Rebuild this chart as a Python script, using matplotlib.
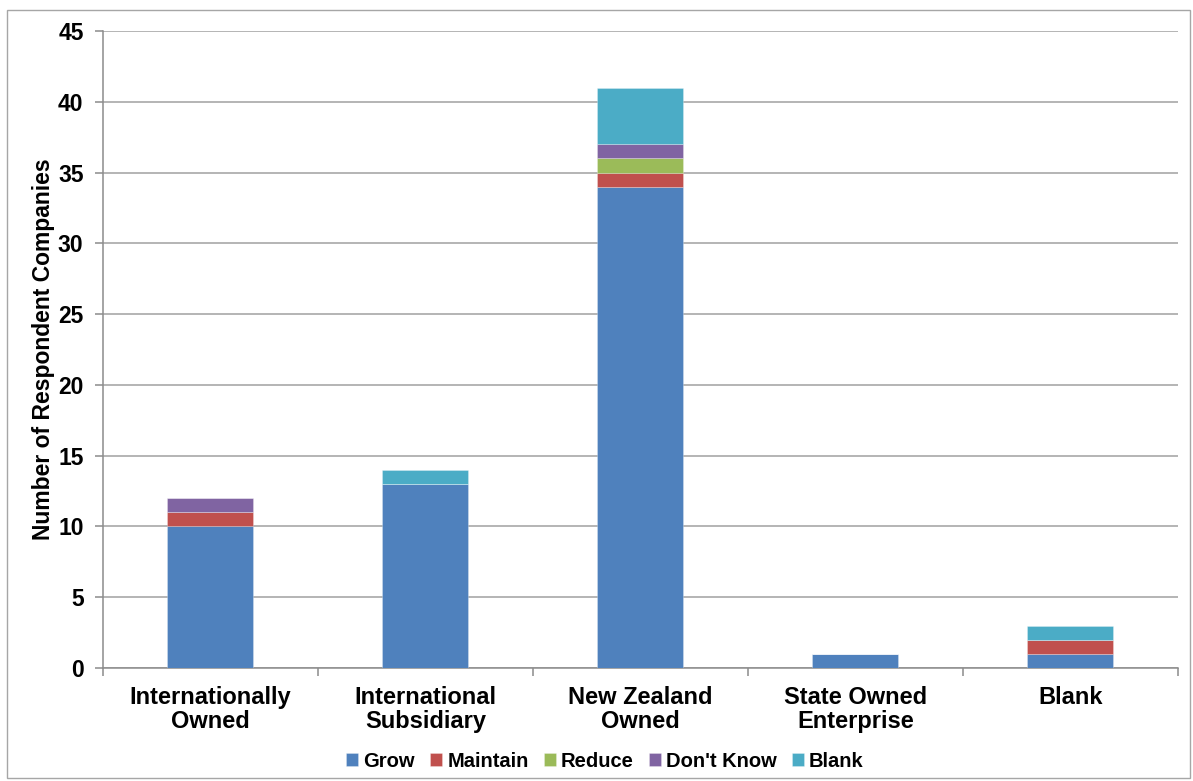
import matplotlib
matplotlib.use("Agg")
import matplotlib.pyplot as plt
from matplotlib.patches import Rectangle
import numpy as np

plt.rcParams['font.family'] = ['Liberation Sans', 'DejaVu Sans']
plt.rcParams['font.weight'] = 'bold'

categories = ["Internationally\nOwned", "International\nSubsidiary", "New Zealand\nOwned",
              "State Owned\nEnterprise", "Blank"]
series_names = ["Grow", "Maintain", "Reduce", "Don't Know", "Blank"]
grow = [10, 13, 34, 1, 1]
maintain = [1, 0, 1, 0, 1]
reduce_ = [0, 0, 1, 0, 0]
dont_know = [1, 0, 1, 0, 0]
blank = [0, 1, 4, 0, 1]
colors = ["#4F81BD", "#C0504D", "#9BBB59", "#8064A2", "#4BACC6"]

fig = plt.figure(figsize=(11.93, 7.81), dpi=100)
ax = fig.add_axes([0.0863, 0.1447, 0.9011, 0.8156])

x = np.arange(len(categories))
bottom = np.zeros(len(categories))
for name, vals, c in zip(series_names, [grow, maintain, reduce_, dont_know, blank], colors):
    ax.bar(x, vals, width=0.4, bottom=bottom, color=c, label=name, zorder=3,
           edgecolor=(1, 1, 1, 0.3), linewidth=0.6)
    bottom += np.array(vals)

ax.set_xlim(-0.5, len(categories) - 0.5)
ax.set_ylim(0, 45)
ax.set_yticks(np.arange(0, 46, 5))
ax.yaxis.grid(True, color="#A0A0A0", linewidth=1.1, zorder=0)
ax.set_axisbelow(True)

ax.set_xticks(x)
ax.set_xticklabels(categories, fontsize=17, fontweight='bold', linespacing=1.05)
ax.tick_params(axis='x', length=0, pad=13)
ax.set_xticks(np.arange(-0.5, len(categories)), minor=True)
ax.tick_params(axis='x', which='minor', length=6, color="#8C8C8C", width=1.1)
ax.tick_params(axis='y', labelsize=16.5, length=6, color="#8C8C8C", width=1.1, pad=8)
for lab in ax.get_yticklabels():
    lab.set_fontweight('bold')

for s in ['top', 'right']:
    ax.spines[s].set_visible(False)
for s in ['left', 'bottom']:
    ax.spines[s].set_color("#8C8C8C")
    ax.spines[s].set_linewidth(1.1)

ax.set_ylabel("Number of Respondent Companies", fontsize=16.5, fontweight='bold', labelpad=2)

leg = fig.legend(loc='center', bbox_to_anchor=(0.507, 0.025), ncol=5, frameon=False,
                 fontsize=14.5, handlelength=0.6, handleheight=0.6, handletextpad=0.25,
                 columnspacing=0.75)
for t in leg.get_texts():
    t.set_fontweight('bold')

fig.patches.append(Rectangle((7 / 1193, 3 / 781), 1183 / 1193, 768 / 781,
                             transform=fig.transFigure, fill=False,
                             edgecolor="#A6A6A6", linewidth=1.0))

fig.savefig("out.png", dpi=100, facecolor="white")
